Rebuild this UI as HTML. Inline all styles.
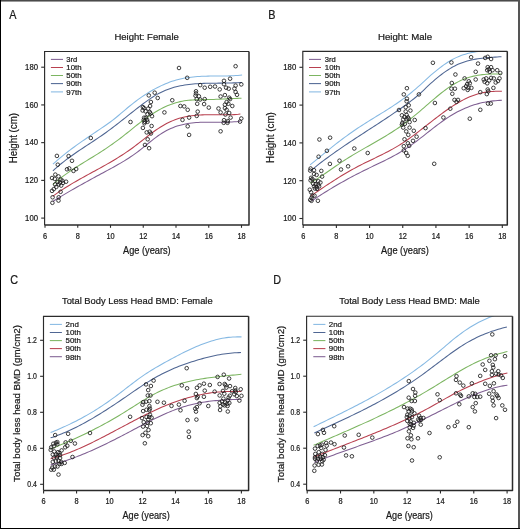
<!DOCTYPE html>
<html><head><meta charset="utf-8"><style>
html,body{margin:0;padding:0;background:#fff;}
svg{display:block;will-change:transform;}
text{font-family:"Liberation Sans", sans-serif;fill:#1a1a1a;}
.b{stroke:#1a1a1a;stroke-width:0.22px;}
</style></head><body>
<svg width="520" height="529" viewBox="0 0 520 529">
<rect width="520" height="529" fill="#fff"/>
<rect x="0" y="0" width="520" height="1" fill="#4a4a4a"/>
<rect x="0" y="1" width="520" height="1" fill="#9a9a9a"/>
<rect x="518" y="0" width="2" height="529" fill="#555"/>
<rect x="0" y="0" width="1" height="529" fill="#000"/>
<rect x="0" y="528" width="520" height="1" fill="#000"/>
<clipPath id="clipA"><rect x="44.6" y="51.5" width="204.4" height="173.4"/></clipPath>
<path d="M52.9,164.2 L55.03,162.3 L57.15,160.44 L59.28,158.62 L61.4,156.85 L63.53,155.12 L65.66,153.43 L67.78,151.77 L69.91,150.14 L72.03,148.54 L74.16,146.98 L76.28,145.43 L78.41,143.91 L80.54,142.41 L82.66,140.93 L84.79,139.46 L86.91,138 L89.04,136.55 L91.17,135.11 L93.29,133.68 L95.42,132.24 L97.54,130.81 L99.67,129.37 L101.79,127.93 L103.92,126.48 L106.05,125.01 L108.17,123.51 L110.3,121.97 L112.42,120.38 L114.55,118.73 L116.68,117.02 L118.8,115.25 L120.93,113.45 L123.05,111.63 L125.18,109.81 L127.3,108.02 L129.43,106.26 L131.56,104.54 L133.68,102.87 L135.81,101.25 L137.93,99.67 L140.06,98.15 L142.19,96.67 L144.31,95.24 L146.44,93.86 L148.56,92.53 L150.69,91.25 L152.81,90.03 L154.94,88.85 L157.07,87.73 L159.19,86.66 L161.32,85.64 L163.44,84.68 L165.57,83.77 L167.7,82.91 L169.82,82.11 L171.95,81.37 L174.07,80.68 L176.2,80.05 L178.32,79.48 L180.45,78.97 L182.58,78.51 L184.7,78.1 L186.83,77.74 L188.95,77.43 L191.08,77.16 L193.21,76.92 L195.33,76.73 L197.46,76.57 L199.58,76.43 L201.71,76.33 L203.83,76.24 L205.96,76.18 L208.09,76.13 L210.21,76.1 L212.34,76.07 L214.46,76.06 L216.59,76.05 L218.72,76.04 L220.84,76.02 L222.97,76 L225.09,75.98 L227.22,75.94 L229.34,75.88 L231.47,75.81 L233.6,75.71 L235.72,75.59 L237.85,75.45 L239.97,75.27 L242.1,75.05" fill="none" stroke="#86b9e3" stroke-width="1.05" clip-path="url(#clipA)"/>
<path d="M52.9,170.8 L55.03,168.88 L57.15,167.02 L59.28,165.22 L61.4,163.48 L63.53,161.79 L65.66,160.14 L67.78,158.54 L69.91,156.98 L72.03,155.45 L74.16,153.95 L76.28,152.48 L78.41,151.03 L80.54,149.6 L82.66,148.19 L84.79,146.78 L86.91,145.39 L89.04,143.99 L91.17,142.59 L93.29,141.19 L95.42,139.78 L97.54,138.36 L99.67,136.92 L101.79,135.45 L103.92,133.97 L106.05,132.45 L108.17,130.9 L110.3,129.33 L112.42,127.73 L114.55,126.12 L116.68,124.48 L118.8,122.83 L120.93,121.17 L123.05,119.49 L125.18,117.81 L127.3,116.13 L129.43,114.44 L131.56,112.76 L133.68,111.08 L135.81,109.4 L137.93,107.74 L140.06,106.09 L142.19,104.47 L144.31,102.87 L146.44,101.32 L148.56,99.82 L150.69,98.36 L152.81,96.97 L154.94,95.65 L157.07,94.4 L159.19,93.24 L161.32,92.16 L163.44,91.17 L165.57,90.26 L167.7,89.43 L169.82,88.67 L171.95,87.98 L174.07,87.36 L176.2,86.8 L178.32,86.29 L180.45,85.84 L182.58,85.44 L184.7,85.08 L186.83,84.77 L188.95,84.49 L191.08,84.24 L193.21,84.03 L195.33,83.85 L197.46,83.7 L199.58,83.57 L201.71,83.46 L203.83,83.38 L205.96,83.31 L208.09,83.26 L210.21,83.22 L212.34,83.19 L214.46,83.17 L216.59,83.15 L218.72,83.13 L220.84,83.12 L222.97,83.1 L225.09,83.08 L227.22,83.05 L229.34,83.01 L231.47,82.95 L233.6,82.88 L235.72,82.8 L237.85,82.69 L239.97,82.56 L242.1,82.4" fill="none" stroke="#4f6693" stroke-width="1.05" clip-path="url(#clipA)"/>
<path d="M52.9,184.48 L55.02,182.65 L57.14,180.88 L59.26,179.17 L61.38,177.51 L63.5,175.92 L65.61,174.37 L67.73,172.86 L69.85,171.39 L71.97,169.96 L74.09,168.56 L76.21,167.19 L78.33,165.85 L80.45,164.52 L82.57,163.21 L84.69,161.9 L86.81,160.61 L88.92,159.32 L91.04,158.02 L93.16,156.73 L95.28,155.42 L97.4,154.09 L99.52,152.75 L101.64,151.39 L103.76,150 L105.88,148.59 L108,147.16 L110.12,145.69 L112.23,144.21 L114.35,142.69 L116.47,141.15 L118.59,139.57 L120.71,137.97 L122.83,136.34 L124.95,134.68 L127.07,132.99 L129.19,131.29 L131.31,129.58 L133.43,127.87 L135.54,126.17 L137.66,124.5 L139.78,122.85 L141.9,121.24 L144.02,119.67 L146.14,118.14 L148.26,116.67 L150.38,115.24 L152.5,113.86 L154.62,112.53 L156.74,111.26 L158.86,110.05 L160.97,108.9 L163.09,107.81 L165.21,106.79 L167.33,105.83 L169.45,104.95 L171.57,104.13 L173.69,103.39 L175.81,102.72 L177.93,102.14 L180.05,101.63 L182.17,101.2 L184.28,100.84 L186.4,100.54 L188.52,100.3 L190.64,100.11 L192.76,99.97 L194.88,99.86 L197,99.77 L199.12,99.72 L201.24,99.67 L203.36,99.64 L205.48,99.61 L207.59,99.57 L209.71,99.53 L211.83,99.47 L213.95,99.41 L216.07,99.33 L218.19,99.25 L220.31,99.16 L222.43,99.07 L224.55,98.97 L226.67,98.87 L228.79,98.77 L230.9,98.66 L233.02,98.56 L235.14,98.47 L237.26,98.37 L239.38,98.28 L241.5,98.2" fill="none" stroke="#7cb561" stroke-width="1.05" clip-path="url(#clipA)"/>
<path d="M52.6,196.39 L54.71,194.87 L56.82,193.38 L58.93,191.94 L61.04,190.53 L63.15,189.15 L65.26,187.8 L67.37,186.48 L69.48,185.19 L71.59,183.92 L73.7,182.67 L75.81,181.44 L77.92,180.24 L80.03,179.04 L82.14,177.86 L84.25,176.69 L86.36,175.53 L88.47,174.37 L90.58,173.22 L92.69,172.07 L94.8,170.92 L96.91,169.77 L99.02,168.62 L101.13,167.45 L103.24,166.28 L105.35,165.1 L107.46,163.9 L109.57,162.69 L111.68,161.46 L113.79,160.21 L115.9,158.94 L118.01,157.64 L120.12,156.32 L122.23,154.97 L124.34,153.59 L126.45,152.17 L128.56,150.72 L130.67,149.23 L132.78,147.7 L134.89,146.13 L137,144.52 L139.11,142.89 L141.22,141.24 L143.33,139.58 L145.44,137.93 L147.56,136.29 L149.67,134.66 L151.78,133.07 L153.89,131.53 L156,130.03 L158.11,128.59 L160.22,127.23 L162.33,125.94 L164.44,124.72 L166.55,123.58 L168.66,122.52 L170.77,121.53 L172.88,120.62 L174.99,119.79 L177.1,119.03 L179.21,118.35 L181.32,117.74 L183.43,117.21 L185.54,116.74 L187.65,116.34 L189.76,115.99 L191.87,115.7 L193.98,115.45 L196.09,115.26 L198.2,115.1 L200.31,114.98 L202.42,114.89 L204.53,114.84 L206.64,114.8 L208.75,114.79 L210.86,114.79 L212.97,114.79 L215.08,114.79 L217.19,114.79 L219.3,114.79 L221.41,114.79 L223.52,114.79 L225.63,114.79 L227.74,114.79 L229.85,114.79 L231.96,114.74 L234.07,114.64 L236.18,114.5 L238.29,114.32 L240.4,114.09" fill="none" stroke="#b8404f" stroke-width="1.05" clip-path="url(#clipA)"/>
<path d="M52.6,201.6 L54.71,200.28 L56.82,198.97 L58.93,197.68 L61.04,196.4 L63.15,195.13 L65.26,193.87 L67.37,192.62 L69.48,191.39 L71.59,190.16 L73.7,188.95 L75.81,187.74 L77.92,186.55 L80.03,185.36 L82.14,184.18 L84.25,183 L86.36,181.84 L88.47,180.67 L90.58,179.52 L92.69,178.37 L94.8,177.22 L96.91,176.08 L99.02,174.94 L101.13,173.81 L103.24,172.67 L105.35,171.54 L107.46,170.41 L109.57,169.27 L111.68,168.12 L113.79,166.96 L115.9,165.78 L118.01,164.58 L120.12,163.37 L122.23,162.12 L124.34,160.84 L126.45,159.53 L128.56,158.19 L130.67,156.8 L132.78,155.37 L134.89,153.89 L137,152.37 L139.11,150.78 L141.22,149.15 L143.33,147.46 L145.44,145.74 L147.56,144.01 L149.67,142.28 L151.78,140.57 L153.89,138.91 L156,137.3 L158.11,135.76 L160.22,134.32 L162.33,132.97 L164.44,131.72 L166.55,130.57 L168.66,129.51 L170.77,128.53 L172.88,127.65 L174.99,126.84 L177.1,126.12 L179.21,125.47 L181.32,124.89 L183.43,124.39 L185.54,123.95 L187.65,123.57 L189.76,123.25 L191.87,122.98 L193.98,122.76 L196.09,122.58 L198.2,122.44 L200.31,122.34 L202.42,122.26 L204.53,122.21 L206.64,122.19 L208.75,122.18 L210.86,122.18 L212.97,122.18 L215.08,122.18 L217.19,122.18 L219.3,122.18 L221.41,122.18 L223.52,122.18 L225.63,122.18 L227.74,122.15 L229.85,122.08 L231.96,121.97 L234.07,121.83 L236.18,121.65 L238.29,121.43 L240.4,121.15" fill="none" stroke="#7f5f92" stroke-width="1.05" clip-path="url(#clipA)"/>
<g fill="none" stroke="#1c1c1c" stroke-width="0.85">
<circle cx="56.9" cy="155.9" r="1.8"/>
<circle cx="68.6" cy="156.1" r="1.8"/>
<circle cx="72" cy="160.8" r="1.8"/>
<circle cx="57.8" cy="164.7" r="1.8"/>
<circle cx="67" cy="169.3" r="1.8"/>
<circle cx="69.2" cy="168.4" r="1.8"/>
<circle cx="73.5" cy="170.9" r="1.8"/>
<circle cx="76.2" cy="169" r="1.8"/>
<circle cx="55.3" cy="174.6" r="1.8"/>
<circle cx="52" cy="178" r="1.8"/>
<circle cx="58.5" cy="176.4" r="1.8"/>
<circle cx="54.8" cy="178.9" r="1.8"/>
<circle cx="60.6" cy="179.5" r="1.8"/>
<circle cx="62.4" cy="180.7" r="1.8"/>
<circle cx="66.1" cy="181.7" r="1.8"/>
<circle cx="57.5" cy="181.9" r="1.8"/>
<circle cx="60" cy="182.6" r="1.8"/>
<circle cx="63" cy="182.9" r="1.8"/>
<circle cx="55.1" cy="184.4" r="1.8"/>
<circle cx="58.7" cy="184.4" r="1.8"/>
<circle cx="61.2" cy="185.6" r="1.8"/>
<circle cx="56.3" cy="186.9" r="1.8"/>
<circle cx="53.8" cy="189.1" r="1.8"/>
<circle cx="52" cy="190.9" r="1.8"/>
<circle cx="60.6" cy="191.8" r="1.8"/>
<circle cx="52.6" cy="197.3" r="1.8"/>
<circle cx="58.7" cy="197.3" r="1.8"/>
<circle cx="52.4" cy="202.8" r="1.8"/>
<circle cx="58.5" cy="200.6" r="1.8"/>
<circle cx="90.8" cy="138" r="1.8"/>
<circle cx="130.5" cy="122" r="1.8"/>
<circle cx="148.8" cy="95.4" r="1.8"/>
<circle cx="154.7" cy="92.7" r="1.8"/>
<circle cx="157.7" cy="98" r="1.8"/>
<circle cx="172.25" cy="100.25" r="1.8"/>
<circle cx="150.9" cy="102" r="1.8"/>
<circle cx="150.1" cy="106" r="1.8"/>
<circle cx="142.9" cy="107.1" r="1.8"/>
<circle cx="144.1" cy="108.2" r="1.8"/>
<circle cx="148.2" cy="108.6" r="1.8"/>
<circle cx="142.6" cy="110.5" r="1.8"/>
<circle cx="145.6" cy="111.3" r="1.8"/>
<circle cx="149.7" cy="112" r="1.8"/>
<circle cx="150.5" cy="113.5" r="1.8"/>
<circle cx="147.5" cy="114.3" r="1.8"/>
<circle cx="152" cy="116.2" r="1.8"/>
<circle cx="144.1" cy="117.7" r="1.8"/>
<circle cx="146" cy="117.7" r="1.8"/>
<circle cx="143.7" cy="119.9" r="1.8"/>
<circle cx="147.1" cy="119.9" r="1.8"/>
<circle cx="144.8" cy="121.8" r="1.8"/>
<circle cx="147.5" cy="121.8" r="1.8"/>
<circle cx="144.4" cy="123.3" r="1.8"/>
<circle cx="164.4" cy="112.4" r="1.8"/>
<circle cx="142.9" cy="127.9" r="1.8"/>
<circle cx="151.6" cy="126" r="1.8"/>
<circle cx="146.7" cy="132.4" r="1.8"/>
<circle cx="149.7" cy="131.7" r="1.8"/>
<circle cx="150.9" cy="133.5" r="1.8"/>
<circle cx="147.7" cy="139.3" r="1.8"/>
<circle cx="145" cy="144.9" r="1.8"/>
<circle cx="149.1" cy="148.2" r="1.8"/>
<circle cx="179" cy="68" r="1.8"/>
<circle cx="235.6" cy="66.2" r="1.8"/>
<circle cx="187.2" cy="77.8" r="1.8"/>
<circle cx="230.1" cy="78.7" r="1.8"/>
<circle cx="224" cy="80.8" r="1.8"/>
<circle cx="224" cy="84.2" r="1.8"/>
<circle cx="200.2" cy="85.1" r="1.8"/>
<circle cx="204.7" cy="87.7" r="1.8"/>
<circle cx="210.2" cy="86.8" r="1.8"/>
<circle cx="215" cy="86.5" r="1.8"/>
<circle cx="219.7" cy="89.4" r="1.8"/>
<circle cx="226.1" cy="87.7" r="1.8"/>
<circle cx="228.7" cy="88.7" r="1.8"/>
<circle cx="235.6" cy="85.6" r="1.8"/>
<circle cx="241.3" cy="84.4" r="1.8"/>
<circle cx="234.4" cy="88.6" r="1.8"/>
<circle cx="235.6" cy="92" r="1.8"/>
<circle cx="237" cy="94.8" r="1.8"/>
<circle cx="196" cy="91.3" r="1.8"/>
<circle cx="196" cy="93.4" r="1.8"/>
<circle cx="195.5" cy="95.7" r="1.8"/>
<circle cx="198.9" cy="96.3" r="1.8"/>
<circle cx="196.7" cy="99.1" r="1.8"/>
<circle cx="200.2" cy="99.5" r="1.8"/>
<circle cx="204.7" cy="99.1" r="1.8"/>
<circle cx="197.2" cy="103.8" r="1.8"/>
<circle cx="204.1" cy="104.1" r="1.8"/>
<circle cx="180.4" cy="106" r="1.8"/>
<circle cx="184.2" cy="106.4" r="1.8"/>
<circle cx="187.7" cy="109.8" r="1.8"/>
<circle cx="197.7" cy="111.6" r="1.8"/>
<circle cx="208.8" cy="107.6" r="1.8"/>
<circle cx="220.6" cy="96.5" r="1.8"/>
<circle cx="224.9" cy="95.1" r="1.8"/>
<circle cx="229.2" cy="97.7" r="1.8"/>
<circle cx="230.1" cy="99.1" r="1.8"/>
<circle cx="226.6" cy="102.1" r="1.8"/>
<circle cx="224.9" cy="104.7" r="1.8"/>
<circle cx="228.4" cy="103.8" r="1.8"/>
<circle cx="232.3" cy="106" r="1.8"/>
<circle cx="218.5" cy="108.5" r="1.8"/>
<circle cx="220.6" cy="112.4" r="1.8"/>
<circle cx="224.9" cy="108.1" r="1.8"/>
<circle cx="226.6" cy="109.8" r="1.8"/>
<circle cx="229.2" cy="113" r="1.8"/>
<circle cx="225.4" cy="114.5" r="1.8"/>
<circle cx="196.7" cy="115.9" r="1.8"/>
<circle cx="189.1" cy="117.6" r="1.8"/>
<circle cx="182.5" cy="119.9" r="1.8"/>
<circle cx="230.6" cy="117.6" r="1.8"/>
<circle cx="224" cy="120.2" r="1.8"/>
<circle cx="227.8" cy="121.1" r="1.8"/>
<circle cx="223.7" cy="122.8" r="1.8"/>
<circle cx="227.5" cy="122.8" r="1.8"/>
<circle cx="241.3" cy="118.5" r="1.8"/>
<circle cx="240" cy="121.6" r="1.8"/>
<circle cx="187.7" cy="126.3" r="1.8"/>
<circle cx="220.6" cy="131.3" r="1.8"/>
<circle cx="189.1" cy="134.9" r="1.8"/>
</g>
<path d="M44.6,224.9 L44.6,51.5 L249,51.5" fill="none" stroke="#2b2b2b" stroke-width="1.15"/>
<path d="M44.6,224.9 L249,224.9 L249,51.5" fill="none" stroke="#2b2b2b" stroke-width="1.5" stroke-linejoin="round"/>
<line x1="45" y1="224.9" x2="45" y2="227.8" stroke="#2b2b2b" stroke-width="1.1"/>
<text transform="translate(45,238.7) scale(0.88,1)" font-size="8.4" text-anchor="middle" class="b">6</text>
<line x1="77.75" y1="224.9" x2="77.75" y2="227.8" stroke="#2b2b2b" stroke-width="1.1"/>
<text transform="translate(77.75,238.7) scale(0.88,1)" font-size="8.4" text-anchor="middle" class="b">8</text>
<line x1="110.5" y1="224.9" x2="110.5" y2="227.8" stroke="#2b2b2b" stroke-width="1.1"/>
<text transform="translate(110.5,238.7) scale(0.88,1)" font-size="8.4" text-anchor="middle" class="b">10</text>
<line x1="143.25" y1="224.9" x2="143.25" y2="227.8" stroke="#2b2b2b" stroke-width="1.1"/>
<text transform="translate(143.25,238.7) scale(0.88,1)" font-size="8.4" text-anchor="middle" class="b">12</text>
<line x1="176" y1="224.9" x2="176" y2="227.8" stroke="#2b2b2b" stroke-width="1.1"/>
<text transform="translate(176,238.7) scale(0.88,1)" font-size="8.4" text-anchor="middle" class="b">14</text>
<line x1="208.75" y1="224.9" x2="208.75" y2="227.8" stroke="#2b2b2b" stroke-width="1.1"/>
<text transform="translate(208.75,238.7) scale(0.88,1)" font-size="8.4" text-anchor="middle" class="b">16</text>
<line x1="241.5" y1="224.9" x2="241.5" y2="227.8" stroke="#2b2b2b" stroke-width="1.1"/>
<text transform="translate(241.5,238.7) scale(0.88,1)" font-size="8.4" text-anchor="middle" class="b">18</text>
<line x1="41.2" y1="218.1" x2="44.6" y2="218.1" stroke="#2b2b2b" stroke-width="1.1"/>
<text transform="translate(38,220.9) scale(0.92,1)" font-size="8.4" text-anchor="end" class="b">100</text>
<line x1="41.2" y1="180.38" x2="44.6" y2="180.38" stroke="#2b2b2b" stroke-width="1.1"/>
<text transform="translate(38,183.18) scale(0.92,1)" font-size="8.4" text-anchor="end" class="b">120</text>
<line x1="41.2" y1="142.65" x2="44.6" y2="142.65" stroke="#2b2b2b" stroke-width="1.1"/>
<text transform="translate(38,145.45) scale(0.92,1)" font-size="8.4" text-anchor="end" class="b">140</text>
<line x1="41.2" y1="104.93" x2="44.6" y2="104.93" stroke="#2b2b2b" stroke-width="1.1"/>
<text transform="translate(38,107.73) scale(0.92,1)" font-size="8.4" text-anchor="end" class="b">160</text>
<line x1="41.2" y1="67.2" x2="44.6" y2="67.2" stroke="#2b2b2b" stroke-width="1.1"/>
<text transform="translate(38,70) scale(0.92,1)" font-size="8.4" text-anchor="end" class="b">180</text>
<text x="114.4" y="39.8" font-size="9.5" class="b" textLength="64.4" lengthAdjust="spacingAndGlyphs">Height: Female</text>
<text transform="translate(9.2,18.75) scale(0.88,1)" font-size="12.3" class="b">A</text>
<text transform="translate(16.6,138.1) rotate(-90)" x="0" y="0" font-size="10" class="b" text-anchor="middle" textLength="50.4" lengthAdjust="spacingAndGlyphs">Height (cm)</text>
<text x="123.1" y="253.8" font-size="10" class="b" textLength="47.6" lengthAdjust="spacingAndGlyphs">Age (years)</text>
<line x1="50.9" y1="59.4" x2="63" y2="59.4" stroke="#7f5f92" stroke-width="1.05"/>
<text x="66.3" y="62.2" font-size="8.1" class="b" textLength="11" lengthAdjust="spacingAndGlyphs">3rd</text>
<line x1="50.9" y1="67.5" x2="63" y2="67.5" stroke="#b8404f" stroke-width="1.05"/>
<text x="66.3" y="70.3" font-size="8.1" class="b" textLength="15.3" lengthAdjust="spacingAndGlyphs">10th</text>
<line x1="50.9" y1="75.5" x2="63" y2="75.5" stroke="#7cb561" stroke-width="1.05"/>
<text x="66.3" y="78.3" font-size="8.1" class="b" textLength="15.3" lengthAdjust="spacingAndGlyphs">50th</text>
<line x1="50.9" y1="83.6" x2="63" y2="83.6" stroke="#4f6693" stroke-width="1.05"/>
<text x="66.3" y="86.4" font-size="8.1" class="b" textLength="15.3" lengthAdjust="spacingAndGlyphs">90th</text>
<line x1="50.9" y1="91.9" x2="63" y2="91.9" stroke="#86b9e3" stroke-width="1.05"/>
<text x="66.3" y="94.7" font-size="8.1" class="b" textLength="15.3" lengthAdjust="spacingAndGlyphs">97th</text>
<clipPath id="clipB"><rect x="302.8" y="51.3" width="204.5" height="173.7"/></clipPath>
<path d="M310.1,164.83 L312.26,163.09 L314.41,161.34 L316.57,159.58 L318.72,157.82 L320.88,156.07 L323.04,154.31 L325.19,152.56 L327.35,150.82 L329.51,149.08 L331.66,147.36 L333.82,145.65 L335.97,143.96 L338.13,142.29 L340.29,140.63 L342.44,139 L344.6,137.4 L346.76,135.82 L348.91,134.26 L351.07,132.74 L353.22,131.24 L355.38,129.76 L357.54,128.31 L359.69,126.88 L361.85,125.47 L364,124.09 L366.16,122.72 L368.32,121.37 L370.47,120.03 L372.63,118.7 L374.79,117.38 L376.94,116.06 L379.1,114.74 L381.25,113.42 L383.41,112.08 L385.57,110.74 L387.72,109.38 L389.88,108 L392.03,106.6 L394.19,105.18 L396.35,103.73 L398.5,102.25 L400.66,100.73 L402.82,99.17 L404.97,97.57 L407.13,95.93 L409.28,94.24 L411.44,92.5 L413.6,90.71 L415.75,88.86 L417.91,86.97 L420.07,85.03 L422.22,83.06 L424.38,81.08 L426.53,79.1 L428.69,77.14 L430.85,75.23 L433,73.36 L435.16,71.55 L437.31,69.8 L439.47,68.11 L441.63,66.48 L443.78,64.93 L445.94,63.45 L448.1,62.05 L450.25,60.74 L452.41,59.52 L454.56,58.39 L456.72,57.36 L458.88,56.43 L461.03,55.59 L463.19,54.84 L465.34,54.17 L467.5,53.57 L469.66,53.03 L471.81,52.56 L473.97,52.13 L476.13,51.75 L478.28,51.4 L480.44,51.08 L482.59,50.79 L484.75,50.5 L486.91,50.23 L489.06,49.95 L491.22,49.67 L493.38,49.37 L495.53,49.05 L497.69,48.71 L499.84,48.32 L502,47.89" fill="none" stroke="#86b9e3" stroke-width="1.05" clip-path="url(#clipB)"/>
<path d="M310.6,170.81 L312.74,169.05 L314.89,167.32 L317.03,165.61 L319.18,163.93 L321.32,162.28 L323.47,160.65 L325.61,159.04 L327.76,157.46 L329.9,155.89 L332.05,154.34 L334.19,152.82 L336.34,151.3 L338.48,149.81 L340.63,148.33 L342.77,146.86 L344.92,145.41 L347.06,143.96 L349.21,142.53 L351.35,141.11 L353.5,139.69 L355.64,138.28 L357.79,136.88 L359.93,135.48 L362.08,134.09 L364.22,132.69 L366.37,131.3 L368.51,129.91 L370.66,128.52 L372.8,127.13 L374.95,125.74 L377.09,124.34 L379.24,122.94 L381.38,121.54 L383.53,120.12 L385.67,118.7 L387.82,117.27 L389.96,115.83 L392.11,114.38 L394.25,112.92 L396.4,111.45 L398.54,109.96 L400.69,108.46 L402.83,106.95 L404.98,105.41 L407.12,103.86 L409.27,102.29 L411.41,100.67 L413.56,99 L415.7,97.26 L417.85,95.43 L419.99,93.52 L422.14,91.53 L424.28,89.51 L426.43,87.47 L428.57,85.45 L430.72,83.47 L432.86,81.55 L435.01,79.69 L437.15,77.89 L439.3,76.16 L441.44,74.49 L443.59,72.9 L445.73,71.38 L447.88,69.95 L450.02,68.6 L452.17,67.33 L454.31,66.16 L456.46,65.08 L458.6,64.1 L460.75,63.21 L462.89,62.41 L465.04,61.69 L467.18,61.05 L469.33,60.48 L471.47,59.97 L473.62,59.52 L475.76,59.13 L477.91,58.79 L480.05,58.49 L482.2,58.23 L484.34,58 L486.49,57.79 L488.63,57.61 L490.78,57.45 L492.92,57.29 L495.07,57.14 L497.21,56.99 L499.36,56.84 L501.5,56.67" fill="none" stroke="#4f6693" stroke-width="1.05" clip-path="url(#clipB)"/>
<path d="M310.1,183.39 L312.25,182.05 L314.4,180.67 L316.55,179.27 L318.7,177.84 L320.85,176.39 L323,174.93 L325.15,173.45 L327.3,171.97 L329.46,170.48 L331.61,168.99 L333.76,167.5 L335.91,166.03 L338.06,164.56 L340.21,163.11 L342.36,161.68 L344.51,160.28 L346.66,158.9 L348.81,157.55 L350.96,156.22 L353.11,154.92 L355.26,153.63 L357.41,152.36 L359.56,151.11 L361.71,149.86 L363.86,148.63 L366.01,147.4 L368.17,146.17 L370.32,144.95 L372.47,143.72 L374.62,142.5 L376.77,141.26 L378.92,140.01 L381.07,138.76 L383.22,137.48 L385.37,136.19 L387.52,134.88 L389.67,133.55 L391.82,132.2 L393.97,130.81 L396.12,129.4 L398.27,127.95 L400.42,126.47 L402.57,124.95 L404.72,123.4 L406.88,121.79 L409.03,120.15 L411.18,118.45 L413.33,116.71 L415.48,114.93 L417.63,113.12 L419.78,111.28 L421.93,109.42 L424.08,107.56 L426.23,105.68 L428.38,103.81 L430.53,101.95 L432.68,100.11 L434.83,98.28 L436.98,96.49 L439.13,94.73 L441.28,93.01 L443.43,91.34 L445.59,89.73 L447.74,88.18 L449.89,86.7 L452.04,85.3 L454.19,83.98 L456.34,82.75 L458.49,81.61 L460.64,80.57 L462.79,79.62 L464.94,78.76 L467.09,77.98 L469.24,77.28 L471.39,76.66 L473.54,76.12 L475.69,75.65 L477.84,75.24 L479.99,74.9 L482.14,74.62 L484.3,74.4 L486.45,74.24 L488.6,74.12 L490.75,74.06 L492.9,74.04 L495.05,74.04 L497.2,74.04 L499.35,74.04 L501.5,74.04" fill="none" stroke="#7cb561" stroke-width="1.05" clip-path="url(#clipB)"/>
<path d="M311,195.9 L313.14,194.41 L315.29,192.92 L317.43,191.45 L319.58,189.98 L321.72,188.52 L323.87,187.08 L326.01,185.65 L328.16,184.23 L330.3,182.83 L332.45,181.44 L334.59,180.07 L336.74,178.71 L338.88,177.38 L341.03,176.06 L343.17,174.76 L345.32,173.49 L347.46,172.23 L349.61,171 L351.75,169.8 L353.9,168.62 L356.04,167.46 L358.19,166.34 L360.33,165.23 L362.48,164.15 L364.62,163.08 L366.77,162.03 L368.91,160.99 L371.06,159.95 L373.2,158.92 L375.35,157.88 L377.49,156.84 L379.64,155.79 L381.78,154.73 L383.93,153.65 L386.07,152.55 L388.22,151.43 L390.36,150.28 L392.51,149.1 L394.65,147.89 L396.8,146.64 L398.94,145.35 L401.09,144.02 L403.23,142.63 L405.38,141.2 L407.52,139.72 L409.67,138.21 L411.81,136.65 L413.96,135.07 L416.1,133.46 L418.25,131.83 L420.39,130.18 L422.54,128.51 L424.68,126.83 L426.83,125.15 L428.97,123.47 L431.12,121.8 L433.26,120.13 L435.41,118.47 L437.55,116.83 L439.7,115.21 L441.84,113.61 L443.99,112.04 L446.13,110.51 L448.28,109.01 L450.42,107.56 L452.57,106.14 L454.71,104.78 L456.86,103.46 L459,102.2 L461.15,100.99 L463.29,99.85 L465.44,98.77 L467.58,97.76 L469.73,96.83 L471.87,95.96 L474.02,95.18 L476.16,94.47 L478.31,93.84 L480.45,93.28 L482.6,92.79 L484.74,92.38 L486.89,92.03 L489.03,91.76 L491.18,91.55 L493.32,91.41 L495.47,91.34 L497.61,91.34 L499.76,91.34 L501.9,91.34" fill="none" stroke="#b8404f" stroke-width="1.05" clip-path="url(#clipB)"/>
<path d="M311.8,200.93 L313.94,199.48 L316.07,198.06 L318.21,196.65 L320.34,195.26 L322.48,193.89 L324.62,192.54 L326.75,191.21 L328.89,189.9 L331.02,188.6 L333.16,187.32 L335.3,186.06 L337.43,184.81 L339.57,183.58 L341.7,182.37 L343.84,181.17 L345.98,179.98 L348.11,178.81 L350.25,177.66 L352.38,176.52 L354.52,175.39 L356.66,174.28 L358.79,173.18 L360.93,172.1 L363.06,171.02 L365.2,169.96 L367.33,168.91 L369.47,167.88 L371.61,166.85 L373.74,165.82 L375.88,164.8 L378.01,163.78 L380.15,162.75 L382.29,161.71 L384.42,160.66 L386.56,159.6 L388.69,158.52 L390.83,157.41 L392.97,156.28 L395.1,155.12 L397.24,153.92 L399.37,152.69 L401.51,151.42 L403.65,150.11 L405.78,148.75 L407.92,147.34 L410.05,145.87 L412.19,144.36 L414.33,142.81 L416.46,141.22 L418.6,139.6 L420.73,137.95 L422.87,136.29 L425.01,134.61 L427.14,132.93 L429.28,131.25 L431.41,129.57 L433.55,127.91 L435.69,126.26 L437.82,124.64 L439.96,123.05 L442.09,121.49 L444.23,119.97 L446.37,118.51 L448.5,117.09 L450.64,115.74 L452.77,114.45 L454.91,113.23 L457.04,112.06 L459.18,110.96 L461.32,109.92 L463.45,108.93 L465.59,108.01 L467.72,107.14 L469.86,106.33 L472,105.58 L474.13,104.87 L476.27,104.23 L478.4,103.63 L480.54,103.09 L482.68,102.6 L484.81,102.16 L486.95,101.76 L489.08,101.42 L491.22,101.12 L493.36,100.87 L495.49,100.66 L497.63,100.5 L499.76,100.38 L501.9,100.31" fill="none" stroke="#7f5f92" stroke-width="1.05" clip-path="url(#clipB)"/>
<g fill="none" stroke="#1c1c1c" stroke-width="0.85">
<circle cx="329.9" cy="163.9" r="1.8"/>
<circle cx="310.6" cy="168.5" r="1.8"/>
<circle cx="310.2" cy="170.6" r="1.8"/>
<circle cx="314" cy="170.2" r="1.8"/>
<circle cx="321.3" cy="170.9" r="1.8"/>
<circle cx="314" cy="174" r="1.8"/>
<circle cx="316.6" cy="174.9" r="1.8"/>
<circle cx="322.1" cy="176.6" r="1.8"/>
<circle cx="311.1" cy="177.8" r="1.8"/>
<circle cx="312.3" cy="179.1" r="1.8"/>
<circle cx="310.6" cy="180.4" r="1.8"/>
<circle cx="314.9" cy="180.8" r="1.8"/>
<circle cx="318.3" cy="181.2" r="1.8"/>
<circle cx="320.4" cy="182.5" r="1.8"/>
<circle cx="313.2" cy="183.8" r="1.8"/>
<circle cx="315.7" cy="184.2" r="1.8"/>
<circle cx="318.3" cy="184.6" r="1.8"/>
<circle cx="314" cy="186.3" r="1.8"/>
<circle cx="316.6" cy="187.2" r="1.8"/>
<circle cx="319.1" cy="186.3" r="1.8"/>
<circle cx="314.9" cy="188.5" r="1.8"/>
<circle cx="317" cy="188.9" r="1.8"/>
<circle cx="309.8" cy="189.7" r="1.8"/>
<circle cx="311.1" cy="192.3" r="1.8"/>
<circle cx="312.3" cy="195.7" r="1.8"/>
<circle cx="314.5" cy="195.7" r="1.8"/>
<circle cx="311.5" cy="197.8" r="1.8"/>
<circle cx="310.2" cy="199.9" r="1.8"/>
<circle cx="311.5" cy="200.8" r="1.8"/>
<circle cx="317.9" cy="200.8" r="1.8"/>
<circle cx="319.4" cy="139.5" r="1.8"/>
<circle cx="330.1" cy="137.7" r="1.8"/>
<circle cx="326.9" cy="150.8" r="1.8"/>
<circle cx="318.6" cy="156.7" r="1.8"/>
<circle cx="339.5" cy="160.7" r="1.8"/>
<circle cx="348.1" cy="166.3" r="1.8"/>
<circle cx="341" cy="169.5" r="1.8"/>
<circle cx="354.3" cy="148.5" r="1.8"/>
<circle cx="367.7" cy="153" r="1.8"/>
<circle cx="406.9" cy="88.2" r="1.8"/>
<circle cx="403.8" cy="94.4" r="1.8"/>
<circle cx="418.9" cy="94.4" r="1.8"/>
<circle cx="406.9" cy="98.7" r="1.8"/>
<circle cx="406.6" cy="101.3" r="1.8"/>
<circle cx="408.7" cy="105.3" r="1.8"/>
<circle cx="405.7" cy="107.2" r="1.8"/>
<circle cx="399" cy="110" r="1.8"/>
<circle cx="410.4" cy="110.6" r="1.8"/>
<circle cx="405.7" cy="111.5" r="1.8"/>
<circle cx="401.9" cy="115.3" r="1.8"/>
<circle cx="406.6" cy="114.9" r="1.8"/>
<circle cx="404.5" cy="117" r="1.8"/>
<circle cx="407.9" cy="117.4" r="1.8"/>
<circle cx="403.2" cy="119.5" r="1.8"/>
<circle cx="406.6" cy="119.1" r="1.8"/>
<circle cx="408.7" cy="118.7" r="1.8"/>
<circle cx="414.7" cy="120" r="1.8"/>
<circle cx="402.3" cy="122.9" r="1.8"/>
<circle cx="404.9" cy="123.8" r="1.8"/>
<circle cx="409.6" cy="122.1" r="1.8"/>
<circle cx="401.9" cy="124.6" r="1.8"/>
<circle cx="403.2" cy="127.6" r="1.8"/>
<circle cx="409.6" cy="127.6" r="1.8"/>
<circle cx="406.2" cy="131.4" r="1.8"/>
<circle cx="413.8" cy="130.8" r="1.8"/>
<circle cx="408.3" cy="134.8" r="1.8"/>
<circle cx="404.5" cy="139.3" r="1.8"/>
<circle cx="413" cy="140.8" r="1.8"/>
<circle cx="416.6" cy="136.7" r="1.8"/>
<circle cx="407.9" cy="143.3" r="1.8"/>
<circle cx="425.5" cy="128.1" r="1.8"/>
<circle cx="403.8" cy="146.2" r="1.8"/>
<circle cx="409.2" cy="145.8" r="1.8"/>
<circle cx="403.8" cy="150.4" r="1.8"/>
<circle cx="406.2" cy="153" r="1.8"/>
<circle cx="407.7" cy="155.8" r="1.8"/>
<circle cx="432.9" cy="62.8" r="1.8"/>
<circle cx="451.4" cy="62.5" r="1.8"/>
<circle cx="471.1" cy="57.2" r="1.8"/>
<circle cx="485.2" cy="57.9" r="1.8"/>
<circle cx="487.7" cy="56.8" r="1.8"/>
<circle cx="491.1" cy="59" r="1.8"/>
<circle cx="478" cy="63.6" r="1.8"/>
<circle cx="455.4" cy="74.5" r="1.8"/>
<circle cx="475.7" cy="71.8" r="1.8"/>
<circle cx="487.7" cy="67.2" r="1.8"/>
<circle cx="491.1" cy="67.2" r="1.8"/>
<circle cx="488.8" cy="69.2" r="1.8"/>
<circle cx="492.6" cy="70.2" r="1.8"/>
<circle cx="497.2" cy="70.2" r="1.8"/>
<circle cx="500.3" cy="73" r="1.8"/>
<circle cx="487.2" cy="70.2" r="1.8"/>
<circle cx="489.8" cy="71.8" r="1.8"/>
<circle cx="464.6" cy="78.4" r="1.8"/>
<circle cx="451.8" cy="83" r="1.8"/>
<circle cx="468.8" cy="81.3" r="1.8"/>
<circle cx="467.2" cy="84.1" r="1.8"/>
<circle cx="469.8" cy="83.3" r="1.8"/>
<circle cx="475.7" cy="79.5" r="1.8"/>
<circle cx="466.2" cy="86.1" r="1.8"/>
<circle cx="463.7" cy="88.2" r="1.8"/>
<circle cx="468.3" cy="87.9" r="1.8"/>
<circle cx="471.4" cy="87.9" r="1.8"/>
<circle cx="467.7" cy="89.9" r="1.8"/>
<circle cx="451.4" cy="88.7" r="1.8"/>
<circle cx="454.9" cy="88.7" r="1.8"/>
<circle cx="452.3" cy="93.8" r="1.8"/>
<circle cx="483.7" cy="79.5" r="1.8"/>
<circle cx="486.2" cy="78.4" r="1.8"/>
<circle cx="489.15" cy="80.45" r="1.8"/>
<circle cx="491.1" cy="77.9" r="1.8"/>
<circle cx="493.8" cy="78.4" r="1.8"/>
<circle cx="484.6" cy="81.8" r="1.8"/>
<circle cx="487.2" cy="83.3" r="1.8"/>
<circle cx="495.7" cy="82.5" r="1.8"/>
<circle cx="498" cy="81" r="1.8"/>
<circle cx="499.5" cy="78.4" r="1.8"/>
<circle cx="493.4" cy="87.9" r="1.8"/>
<circle cx="487.7" cy="89.5" r="1.8"/>
<circle cx="488.3" cy="91.3" r="1.8"/>
<circle cx="480.3" cy="92.2" r="1.8"/>
<circle cx="486.8" cy="94.1" r="1.8"/>
<circle cx="434.9" cy="103" r="1.8"/>
<circle cx="454.5" cy="99.9" r="1.8"/>
<circle cx="458" cy="99.9" r="1.8"/>
<circle cx="456.5" cy="101.8" r="1.8"/>
<circle cx="450.3" cy="108.7" r="1.8"/>
<circle cx="480.3" cy="109.8" r="1.8"/>
<circle cx="488" cy="103.6" r="1.8"/>
<circle cx="490.8" cy="103.6" r="1.8"/>
<circle cx="443.4" cy="117.5" r="1.8"/>
<circle cx="469.8" cy="118.7" r="1.8"/>
<circle cx="434.2" cy="163.8" r="1.8"/>
</g>
<path d="M302.8,225 L302.8,51.3 L507.3,51.3" fill="none" stroke="#2b2b2b" stroke-width="1.15"/>
<path d="M302.8,225 L507.3,225 L507.3,51.3" fill="none" stroke="#2b2b2b" stroke-width="1.5" stroke-linejoin="round"/>
<line x1="303.2" y1="225" x2="303.2" y2="227.9" stroke="#2b2b2b" stroke-width="1.1"/>
<text transform="translate(303.2,238.8) scale(0.88,1)" font-size="8.4" text-anchor="middle" class="b">6</text>
<line x1="336.38" y1="225" x2="336.38" y2="227.9" stroke="#2b2b2b" stroke-width="1.1"/>
<text transform="translate(336.38,238.8) scale(0.88,1)" font-size="8.4" text-anchor="middle" class="b">8</text>
<line x1="369.57" y1="225" x2="369.57" y2="227.9" stroke="#2b2b2b" stroke-width="1.1"/>
<text transform="translate(369.57,238.8) scale(0.88,1)" font-size="8.4" text-anchor="middle" class="b">10</text>
<line x1="402.75" y1="225" x2="402.75" y2="227.9" stroke="#2b2b2b" stroke-width="1.1"/>
<text transform="translate(402.75,238.8) scale(0.88,1)" font-size="8.4" text-anchor="middle" class="b">12</text>
<line x1="435.93" y1="225" x2="435.93" y2="227.9" stroke="#2b2b2b" stroke-width="1.1"/>
<text transform="translate(435.93,238.8) scale(0.88,1)" font-size="8.4" text-anchor="middle" class="b">14</text>
<line x1="469.12" y1="225" x2="469.12" y2="227.9" stroke="#2b2b2b" stroke-width="1.1"/>
<text transform="translate(469.12,238.8) scale(0.88,1)" font-size="8.4" text-anchor="middle" class="b">16</text>
<line x1="502.3" y1="225" x2="502.3" y2="227.9" stroke="#2b2b2b" stroke-width="1.1"/>
<text transform="translate(502.3,238.8) scale(0.88,1)" font-size="8.4" text-anchor="middle" class="b">18</text>
<line x1="299.4" y1="218.5" x2="302.8" y2="218.5" stroke="#2b2b2b" stroke-width="1.1"/>
<text transform="translate(296.2,221.3) scale(0.92,1)" font-size="8.4" text-anchor="end" class="b">100</text>
<line x1="299.4" y1="180.7" x2="302.8" y2="180.7" stroke="#2b2b2b" stroke-width="1.1"/>
<text transform="translate(296.2,183.5) scale(0.92,1)" font-size="8.4" text-anchor="end" class="b">120</text>
<line x1="299.4" y1="142.9" x2="302.8" y2="142.9" stroke="#2b2b2b" stroke-width="1.1"/>
<text transform="translate(296.2,145.7) scale(0.92,1)" font-size="8.4" text-anchor="end" class="b">140</text>
<line x1="299.4" y1="105.1" x2="302.8" y2="105.1" stroke="#2b2b2b" stroke-width="1.1"/>
<text transform="translate(296.2,107.9) scale(0.92,1)" font-size="8.4" text-anchor="end" class="b">160</text>
<line x1="299.4" y1="67.3" x2="302.8" y2="67.3" stroke="#2b2b2b" stroke-width="1.1"/>
<text transform="translate(296.2,70.1) scale(0.92,1)" font-size="8.4" text-anchor="end" class="b">180</text>
<text x="378" y="39.7" font-size="9.5" class="b" textLength="54" lengthAdjust="spacingAndGlyphs">Height: Male</text>
<text transform="translate(268.3,18.7) scale(0.88,1)" font-size="12.3" class="b">B</text>
<text transform="translate(273.8,137.5) rotate(-90)" x="0" y="0" font-size="10" class="b" text-anchor="middle" textLength="50.8" lengthAdjust="spacingAndGlyphs">Height (cm)</text>
<text x="381.1" y="253.8" font-size="10" class="b" textLength="47.7" lengthAdjust="spacingAndGlyphs">Age (years)</text>
<line x1="309" y1="59.4" x2="321" y2="59.4" stroke="#7f5f92" stroke-width="1.05"/>
<text x="324.8" y="62.2" font-size="8.1" class="b" textLength="11" lengthAdjust="spacingAndGlyphs">3rd</text>
<line x1="309" y1="67.5" x2="321" y2="67.5" stroke="#b8404f" stroke-width="1.05"/>
<text x="324.8" y="70.3" font-size="8.1" class="b" textLength="15.3" lengthAdjust="spacingAndGlyphs">10th</text>
<line x1="309" y1="75.5" x2="321" y2="75.5" stroke="#7cb561" stroke-width="1.05"/>
<text x="324.8" y="78.3" font-size="8.1" class="b" textLength="15.3" lengthAdjust="spacingAndGlyphs">50th</text>
<line x1="309" y1="83.6" x2="321" y2="83.6" stroke="#4f6693" stroke-width="1.05"/>
<text x="324.8" y="86.4" font-size="8.1" class="b" textLength="15.3" lengthAdjust="spacingAndGlyphs">90th</text>
<line x1="309" y1="91.9" x2="321" y2="91.9" stroke="#86b9e3" stroke-width="1.05"/>
<text x="324.8" y="94.7" font-size="8.1" class="b" textLength="15.3" lengthAdjust="spacingAndGlyphs">97th</text>
<clipPath id="clipC"><rect x="43.5" y="316.3" width="205.1" height="174.3"/></clipPath>
<path d="M50.6,432.61 L52.74,431.73 L54.89,430.83 L57.03,429.92 L59.18,429 L61.32,428.06 L63.47,427.09 L65.61,426.11 L67.76,425.12 L69.9,424.1 L72.05,423.06 L74.19,421.99 L76.34,420.91 L78.48,419.8 L80.63,418.67 L82.77,417.51 L84.92,416.33 L87.06,415.12 L89.21,413.89 L91.35,412.62 L93.5,411.33 L95.64,410.01 L97.79,408.66 L99.93,407.28 L102.08,405.86 L104.22,404.42 L106.37,402.95 L108.51,401.45 L110.66,399.92 L112.8,398.38 L114.95,396.8 L117.09,395.21 L119.24,393.6 L121.38,391.96 L123.53,390.32 L125.67,388.66 L127.82,387 L129.96,385.35 L132.11,383.71 L134.25,382.08 L136.4,380.48 L138.54,378.9 L140.69,377.36 L142.83,375.87 L144.98,374.41 L147.12,372.99 L149.27,371.6 L151.41,370.26 L153.56,368.95 L155.7,367.67 L157.85,366.43 L159.99,365.21 L162.14,364 L164.28,362.81 L166.43,361.63 L168.57,360.45 L170.72,359.29 L172.86,358.13 L175.01,356.98 L177.15,355.85 L179.3,354.73 L181.44,353.63 L183.59,352.55 L185.73,351.49 L187.88,350.46 L190.02,349.44 L192.17,348.45 L194.31,347.5 L196.46,346.57 L198.6,345.67 L200.75,344.8 L202.89,343.97 L205.04,343.18 L207.18,342.42 L209.33,341.71 L211.47,341.03 L213.62,340.4 L215.76,339.82 L217.91,339.28 L220.05,338.79 L222.2,338.36 L224.34,337.97 L226.49,337.64 L228.63,337.37 L230.78,337.15 L232.92,336.99 L235.07,336.9 L237.21,336.87 L239.36,336.87 L241.5,336.87" fill="none" stroke="#86b9e3" stroke-width="1.05" clip-path="url(#clipC)"/>
<path d="M50.6,437.86 L52.74,437.15 L54.88,436.41 L57.02,435.63 L59.16,434.82 L61.3,433.98 L63.44,433.1 L65.58,432.19 L67.71,431.25 L69.85,430.28 L71.99,429.28 L74.13,428.25 L76.27,427.2 L78.41,426.12 L80.55,425.01 L82.69,423.87 L84.83,422.71 L86.97,421.53 L89.11,420.32 L91.25,419.1 L93.39,417.85 L95.53,416.57 L97.67,415.28 L99.8,413.97 L101.94,412.65 L104.08,411.3 L106.22,409.94 L108.36,408.56 L110.5,407.17 L112.64,405.76 L114.78,404.34 L116.92,402.9 L119.06,401.46 L121.2,400 L123.34,398.53 L125.48,397.06 L127.62,395.58 L129.76,394.1 L131.89,392.63 L134.03,391.16 L136.17,389.7 L138.31,388.26 L140.45,386.83 L142.59,385.42 L144.73,384.03 L146.87,382.67 L149.01,381.33 L151.15,380.03 L153.29,378.76 L155.43,377.53 L157.57,376.33 L159.71,375.18 L161.84,374.06 L163.98,372.98 L166.12,371.93 L168.26,370.92 L170.4,369.95 L172.54,369 L174.68,368.09 L176.82,367.21 L178.96,366.36 L181.1,365.54 L183.24,364.74 L185.38,363.98 L187.52,363.23 L189.66,362.51 L191.8,361.81 L193.93,361.14 L196.07,360.48 L198.21,359.84 L200.35,359.22 L202.49,358.62 L204.63,358.04 L206.77,357.49 L208.91,356.95 L211.05,356.44 L213.19,355.96 L215.33,355.5 L217.47,355.07 L219.61,354.67 L221.75,354.3 L223.89,353.97 L226.02,353.66 L228.16,353.4 L230.3,353.16 L232.44,352.97 L234.58,352.81 L236.72,352.69 L238.86,352.61 L241,352.57" fill="none" stroke="#4f6693" stroke-width="1.05" clip-path="url(#clipC)"/>
<path d="M50.6,449 L52.74,448.14 L54.89,447.27 L57.03,446.39 L59.18,445.5 L61.32,444.6 L63.46,443.69 L65.61,442.77 L67.75,441.84 L69.89,440.9 L72.04,439.94 L74.18,438.97 L76.33,437.99 L78.47,437 L80.61,436 L82.76,434.98 L84.9,433.95 L87.04,432.91 L89.19,431.85 L91.33,430.78 L93.48,429.69 L95.62,428.59 L97.76,427.47 L99.91,426.34 L102.05,425.2 L104.2,424.04 L106.34,422.86 L108.48,421.67 L110.63,420.46 L112.77,419.23 L114.91,417.99 L117.06,416.73 L119.2,415.45 L121.35,414.16 L123.49,412.84 L125.63,411.51 L127.78,410.17 L129.92,408.81 L132.07,407.44 L134.21,406.07 L136.35,404.7 L138.5,403.34 L140.64,401.99 L142.78,400.66 L144.93,399.35 L147.07,398.08 L149.22,396.83 L151.36,395.62 L153.5,394.46 L155.65,393.35 L157.79,392.28 L159.93,391.26 L162.08,390.29 L164.22,389.36 L166.37,388.47 L168.51,387.63 L170.65,386.83 L172.8,386.06 L174.94,385.33 L177.09,384.64 L179.23,383.99 L181.37,383.36 L183.52,382.77 L185.66,382.21 L187.8,381.68 L189.95,381.18 L192.09,380.71 L194.24,380.26 L196.38,379.84 L198.52,379.44 L200.67,379.06 L202.81,378.7 L204.96,378.36 L207.1,378.04 L209.24,377.74 L211.39,377.45 L213.53,377.18 L215.67,376.92 L217.82,376.67 L219.96,376.43 L222.11,376.2 L224.25,375.98 L226.39,375.76 L228.54,375.55 L230.68,375.34 L232.82,375.14 L234.97,374.93 L237.11,374.73 L239.26,374.52 L241.4,374.32" fill="none" stroke="#7cb561" stroke-width="1.05" clip-path="url(#clipC)"/>
<path d="M50.6,458.68 L52.74,458.11 L54.89,457.51 L57.03,456.87 L59.18,456.2 L61.32,455.5 L63.46,454.77 L65.61,454.01 L67.75,453.21 L69.89,452.39 L72.04,451.55 L74.18,450.68 L76.33,449.78 L78.47,448.86 L80.61,447.92 L82.76,446.96 L84.9,445.98 L87.04,444.98 L89.19,443.96 L91.33,442.93 L93.48,441.88 L95.62,440.81 L97.76,439.74 L99.91,438.65 L102.05,437.55 L104.2,436.44 L106.34,435.33 L108.48,434.2 L110.63,433.07 L112.77,431.94 L114.91,430.8 L117.06,429.66 L119.2,428.51 L121.35,427.37 L123.49,426.23 L125.63,425.09 L127.78,423.95 L129.92,422.81 L132.07,421.69 L134.21,420.56 L136.35,419.45 L138.5,418.34 L140.64,417.25 L142.78,416.16 L144.93,415.09 L147.07,414.03 L149.22,412.98 L151.36,411.95 L153.5,410.94 L155.65,409.94 L157.79,408.96 L159.93,408.01 L162.08,407.07 L164.22,406.16 L166.37,405.26 L168.51,404.4 L170.65,403.56 L172.8,402.74 L174.94,401.96 L177.09,401.2 L179.23,400.46 L181.37,399.76 L183.52,399.08 L185.66,398.43 L187.8,397.81 L189.95,397.21 L192.09,396.64 L194.24,396.1 L196.38,395.59 L198.52,395.11 L200.67,394.66 L202.81,394.24 L204.96,393.84 L207.1,393.48 L209.24,393.14 L211.39,392.83 L213.53,392.56 L215.67,392.31 L217.82,392.1 L219.96,391.91 L222.11,391.76 L224.25,391.63 L226.39,391.54 L228.54,391.48 L230.68,391.45 L232.82,391.45 L234.97,391.45 L237.11,391.45 L239.26,391.45 L241.4,391.45" fill="none" stroke="#b8404f" stroke-width="1.05" clip-path="url(#clipC)"/>
<path d="M50.6,464.89 L52.74,464.37 L54.89,463.82 L57.03,463.24 L59.18,462.63 L61.32,461.99 L63.46,461.33 L65.61,460.65 L67.75,459.94 L69.89,459.21 L72.04,458.45 L74.18,457.67 L76.33,456.87 L78.47,456.04 L80.61,455.2 L82.76,454.34 L84.9,453.45 L87.04,452.55 L89.19,451.63 L91.33,450.69 L93.48,449.74 L95.62,448.77 L97.76,447.79 L99.91,446.79 L102.05,445.77 L104.2,444.74 L106.34,443.7 L108.48,442.65 L110.63,441.59 L112.77,440.51 L114.91,439.43 L117.06,438.33 L119.2,437.23 L121.35,436.12 L123.49,435 L125.63,433.88 L127.78,432.74 L129.92,431.61 L132.07,430.47 L134.21,429.33 L136.35,428.19 L138.5,427.06 L140.64,425.93 L142.78,424.8 L144.93,423.68 L147.07,422.58 L149.22,421.48 L151.36,420.39 L153.5,419.32 L155.65,418.27 L157.79,417.23 L159.93,416.22 L162.08,415.22 L164.22,414.25 L166.37,413.3 L168.51,412.38 L170.65,411.48 L172.8,410.62 L174.94,409.79 L177.09,408.98 L179.23,408.22 L181.37,407.49 L183.52,406.8 L185.66,406.15 L187.8,405.53 L189.95,404.96 L192.09,404.43 L194.24,403.93 L196.38,403.46 L198.52,403.03 L200.67,402.64 L202.81,402.27 L204.96,401.93 L207.1,401.62 L209.24,401.33 L211.39,401.07 L213.53,400.84 L215.67,400.62 L217.82,400.43 L219.96,400.25 L222.11,400.1 L224.25,399.96 L226.39,399.83 L228.54,399.72 L230.68,399.62 L232.82,399.53 L234.97,399.45 L237.11,399.38 L239.26,399.32 L241.4,399.26" fill="none" stroke="#7f5f92" stroke-width="1.05" clip-path="url(#clipC)"/>
<g fill="none" stroke="#1c1c1c" stroke-width="0.85">
<circle cx="55.2" cy="435.1" r="1.8"/>
<circle cx="68.1" cy="433.8" r="1.8"/>
<circle cx="53.3" cy="443.7" r="1.8"/>
<circle cx="55.9" cy="442.7" r="1.8"/>
<circle cx="57.3" cy="442.1" r="1.8"/>
<circle cx="57.3" cy="444.2" r="1.8"/>
<circle cx="51.2" cy="447.3" r="1.8"/>
<circle cx="53.8" cy="446.3" r="1.8"/>
<circle cx="50.7" cy="449.9" r="1.8"/>
<circle cx="65.6" cy="442.4" r="1.8"/>
<circle cx="70.8" cy="440.8" r="1.8"/>
<circle cx="74.9" cy="443.5" r="1.8"/>
<circle cx="67.3" cy="445.8" r="1.8"/>
<circle cx="65.2" cy="447.3" r="1.8"/>
<circle cx="54.3" cy="451.5" r="1.8"/>
<circle cx="61.6" cy="450.4" r="1.8"/>
<circle cx="58" cy="452.2" r="1.8"/>
<circle cx="59.5" cy="453" r="1.8"/>
<circle cx="52.8" cy="454.6" r="1.8"/>
<circle cx="55.9" cy="454.6" r="1.8"/>
<circle cx="57.5" cy="455.6" r="1.8"/>
<circle cx="60.1" cy="455.1" r="1.8"/>
<circle cx="53.8" cy="457.7" r="1.8"/>
<circle cx="56.9" cy="457.2" r="1.8"/>
<circle cx="60.1" cy="458" r="1.8"/>
<circle cx="72.5" cy="457" r="1.8"/>
<circle cx="52.8" cy="461.9" r="1.8"/>
<circle cx="55.9" cy="461.3" r="1.8"/>
<circle cx="58.5" cy="460.8" r="1.8"/>
<circle cx="61.1" cy="461.9" r="1.8"/>
<circle cx="64.7" cy="462.9" r="1.8"/>
<circle cx="59.5" cy="463.9" r="1.8"/>
<circle cx="61.6" cy="463.9" r="1.8"/>
<circle cx="52.3" cy="467.6" r="1.8"/>
<circle cx="54.9" cy="466.5" r="1.8"/>
<circle cx="57.5" cy="466.5" r="1.8"/>
<circle cx="51.2" cy="469.7" r="1.8"/>
<circle cx="53.8" cy="469.7" r="1.8"/>
<circle cx="58.5" cy="474.6" r="1.8"/>
<circle cx="90" cy="433" r="1.8"/>
<circle cx="153.6" cy="380.6" r="1.8"/>
<circle cx="146" cy="384.4" r="1.8"/>
<circle cx="150.9" cy="386" r="1.8"/>
<circle cx="148.2" cy="390.1" r="1.8"/>
<circle cx="147.8" cy="395.5" r="1.8"/>
<circle cx="150.5" cy="395.5" r="1.8"/>
<circle cx="146" cy="401.65" r="1.8"/>
<circle cx="149.4" cy="401.15" r="1.8"/>
<circle cx="143.2" cy="402.15" r="1.8"/>
<circle cx="142.5" cy="404.7" r="1.8"/>
<circle cx="157.45" cy="401.8" r="1.8"/>
<circle cx="163.9" cy="402.7" r="1.8"/>
<circle cx="149.4" cy="406.1" r="1.8"/>
<circle cx="146.45" cy="409.75" r="1.8"/>
<circle cx="149.9" cy="408.55" r="1.8"/>
<circle cx="143.1" cy="411.1" r="1.8"/>
<circle cx="149.3" cy="410.2" r="1.8"/>
<circle cx="130.1" cy="416.8" r="1.8"/>
<circle cx="142" cy="418.1" r="1.8"/>
<circle cx="146.5" cy="417" r="1.8"/>
<circle cx="149.9" cy="414.7" r="1.8"/>
<circle cx="149.3" cy="417" r="1.8"/>
<circle cx="151.6" cy="417.6" r="1.8"/>
<circle cx="148.2" cy="419.5" r="1.8"/>
<circle cx="143.7" cy="422.1" r="1.8"/>
<circle cx="147.6" cy="422.6" r="1.8"/>
<circle cx="150.8" cy="423.2" r="1.8"/>
<circle cx="143.1" cy="426.6" r="1.8"/>
<circle cx="147.1" cy="426" r="1.8"/>
<circle cx="148.5" cy="430" r="1.8"/>
<circle cx="145.4" cy="432.8" r="1.8"/>
<circle cx="142.6" cy="435.1" r="1.8"/>
<circle cx="148.2" cy="436.2" r="1.8"/>
<circle cx="144.85" cy="443.3" r="1.8"/>
<circle cx="186.7" cy="368.2" r="1.8"/>
<circle cx="217.6" cy="376.9" r="1.8"/>
<circle cx="223.8" cy="374.7" r="1.8"/>
<circle cx="229.1" cy="378.5" r="1.8"/>
<circle cx="181.8" cy="385.4" r="1.8"/>
<circle cx="187.1" cy="388.3" r="1.8"/>
<circle cx="196.9" cy="387.8" r="1.8"/>
<circle cx="199.6" cy="385.4" r="1.8"/>
<circle cx="203.9" cy="383.7" r="1.8"/>
<circle cx="209.8" cy="385" r="1.8"/>
<circle cx="219.55" cy="384" r="1.8"/>
<circle cx="224.7" cy="384" r="1.8"/>
<circle cx="226.3" cy="387.6" r="1.8"/>
<circle cx="230" cy="386.1" r="1.8"/>
<circle cx="235.25" cy="388" r="1.8"/>
<circle cx="240.7" cy="389.25" r="1.8"/>
<circle cx="204.75" cy="390.65" r="1.8"/>
<circle cx="214.65" cy="391.65" r="1.8"/>
<circle cx="223" cy="390.9" r="1.8"/>
<circle cx="232.05" cy="391.3" r="1.8"/>
<circle cx="235.5" cy="390.45" r="1.8"/>
<circle cx="195.85" cy="393.95" r="1.8"/>
<circle cx="197.7" cy="396.65" r="1.8"/>
<circle cx="203.9" cy="396.8" r="1.8"/>
<circle cx="219.65" cy="395.45" r="1.8"/>
<circle cx="224.3" cy="393.7" r="1.8"/>
<circle cx="229.75" cy="395.77" r="1.8"/>
<circle cx="236.8" cy="395.98" r="1.8"/>
<circle cx="241.45" cy="395.85" r="1.8"/>
<circle cx="225.6" cy="385.3" r="1.8"/>
<circle cx="235.75" cy="392.05" r="1.8"/>
<circle cx="234.3" cy="394.3" r="1.8"/>
<circle cx="228.6" cy="397.6" r="1.8"/>
<circle cx="223.4" cy="398.6" r="1.8"/>
<circle cx="239.4" cy="400.6" r="1.8"/>
<circle cx="222" cy="401.4" r="1.8"/>
<circle cx="219.6" cy="402.8" r="1.8"/>
<circle cx="225.15" cy="402.5" r="1.8"/>
<circle cx="229.35" cy="403" r="1.8"/>
<circle cx="227.8" cy="400.3" r="1.8"/>
<circle cx="227.2" cy="403.8" r="1.8"/>
<circle cx="220.35" cy="406.3" r="1.8"/>
<circle cx="223" cy="404.5" r="1.8"/>
<circle cx="227.55" cy="406" r="1.8"/>
<circle cx="208.3" cy="406" r="1.8"/>
<circle cx="220.05" cy="410" r="1.8"/>
<circle cx="227.8" cy="411.5" r="1.8"/>
<circle cx="171.5" cy="405.9" r="1.8"/>
<circle cx="178.9" cy="404.6" r="1.8"/>
<circle cx="180.5" cy="410.3" r="1.8"/>
<circle cx="184.6" cy="400.8" r="1.8"/>
<circle cx="196.9" cy="398.1" r="1.8"/>
<circle cx="199.6" cy="403.3" r="1.8"/>
<circle cx="195.2" cy="408.7" r="1.8"/>
<circle cx="196.9" cy="407.1" r="1.8"/>
<circle cx="196" cy="411.6" r="1.8"/>
<circle cx="187.5" cy="420.1" r="1.8"/>
<circle cx="196.4" cy="419.6" r="1.8"/>
<circle cx="188.7" cy="431.6" r="1.8"/>
<circle cx="189" cy="437" r="1.8"/>
<circle cx="224.6" cy="405.4" r="1.8"/>
</g>
<path d="M43.5,490.6 L43.5,316.3 L248.6,316.3" fill="none" stroke="#2b2b2b" stroke-width="1.15"/>
<path d="M43.5,490.6 L248.6,490.6 L248.6,316.3" fill="none" stroke="#2b2b2b" stroke-width="1.5" stroke-linejoin="round"/>
<line x1="43.6" y1="490.6" x2="43.6" y2="493.5" stroke="#2b2b2b" stroke-width="1.1"/>
<text transform="translate(43.6,504.4) scale(0.88,1)" font-size="8.4" text-anchor="middle" class="b">6</text>
<line x1="76.57" y1="490.6" x2="76.57" y2="493.5" stroke="#2b2b2b" stroke-width="1.1"/>
<text transform="translate(76.57,504.4) scale(0.88,1)" font-size="8.4" text-anchor="middle" class="b">8</text>
<line x1="109.53" y1="490.6" x2="109.53" y2="493.5" stroke="#2b2b2b" stroke-width="1.1"/>
<text transform="translate(109.53,504.4) scale(0.88,1)" font-size="8.4" text-anchor="middle" class="b">10</text>
<line x1="142.5" y1="490.6" x2="142.5" y2="493.5" stroke="#2b2b2b" stroke-width="1.1"/>
<text transform="translate(142.5,504.4) scale(0.88,1)" font-size="8.4" text-anchor="middle" class="b">12</text>
<line x1="175.47" y1="490.6" x2="175.47" y2="493.5" stroke="#2b2b2b" stroke-width="1.1"/>
<text transform="translate(175.47,504.4) scale(0.88,1)" font-size="8.4" text-anchor="middle" class="b">14</text>
<line x1="208.43" y1="490.6" x2="208.43" y2="493.5" stroke="#2b2b2b" stroke-width="1.1"/>
<text transform="translate(208.43,504.4) scale(0.88,1)" font-size="8.4" text-anchor="middle" class="b">16</text>
<line x1="241.4" y1="490.6" x2="241.4" y2="493.5" stroke="#2b2b2b" stroke-width="1.1"/>
<text transform="translate(241.4,504.4) scale(0.88,1)" font-size="8.4" text-anchor="middle" class="b">18</text>
<line x1="40.1" y1="484.3" x2="43.5" y2="484.3" stroke="#2b2b2b" stroke-width="1.1"/>
<text transform="translate(36.9,487.1) scale(0.82,1)" font-size="8.4" text-anchor="end" class="b">0.4</text>
<line x1="40.1" y1="448.3" x2="43.5" y2="448.3" stroke="#2b2b2b" stroke-width="1.1"/>
<text transform="translate(36.9,451.1) scale(0.82,1)" font-size="8.4" text-anchor="end" class="b">0.6</text>
<line x1="40.1" y1="412.3" x2="43.5" y2="412.3" stroke="#2b2b2b" stroke-width="1.1"/>
<text transform="translate(36.9,415.1) scale(0.82,1)" font-size="8.4" text-anchor="end" class="b">0.8</text>
<line x1="40.1" y1="376.3" x2="43.5" y2="376.3" stroke="#2b2b2b" stroke-width="1.1"/>
<text transform="translate(36.9,379.1) scale(0.82,1)" font-size="8.4" text-anchor="end" class="b">1.0</text>
<line x1="40.1" y1="340.3" x2="43.5" y2="340.3" stroke="#2b2b2b" stroke-width="1.1"/>
<text transform="translate(36.9,343.1) scale(0.82,1)" font-size="8.4" text-anchor="end" class="b">1.2</text>
<text x="62" y="303.8" font-size="9.5" class="b" textLength="150.6" lengthAdjust="spacingAndGlyphs">Total Body Less Head BMD: Female</text>
<text transform="translate(10.2,283.8) scale(0.88,1)" font-size="12.3" class="b">C</text>
<text transform="translate(19.7,403.5) rotate(-90)" x="0" y="0" font-size="9.6" class="b" text-anchor="middle" textLength="156.8" lengthAdjust="spacingAndGlyphs">Total body less head BMD (gm/cm2)</text>
<text x="122.5" y="518.6" font-size="10" class="b" textLength="47.2" lengthAdjust="spacingAndGlyphs">Age (years)</text>
<line x1="49.8" y1="324.4" x2="61.9" y2="324.4" stroke="#86b9e3" stroke-width="1.05"/>
<text x="65.6" y="327.2" font-size="8.1" class="b" textLength="13.2" lengthAdjust="spacingAndGlyphs">2nd</text>
<line x1="49.8" y1="332.5" x2="61.9" y2="332.5" stroke="#4f6693" stroke-width="1.05"/>
<text x="65.6" y="335.3" font-size="8.1" class="b" textLength="15.3" lengthAdjust="spacingAndGlyphs">10th</text>
<line x1="49.8" y1="340.6" x2="61.9" y2="340.6" stroke="#7cb561" stroke-width="1.05"/>
<text x="65.6" y="343.4" font-size="8.1" class="b" textLength="15.3" lengthAdjust="spacingAndGlyphs">50th</text>
<line x1="49.8" y1="348.6" x2="61.9" y2="348.6" stroke="#b8404f" stroke-width="1.05"/>
<text x="65.6" y="351.4" font-size="8.1" class="b" textLength="15.3" lengthAdjust="spacingAndGlyphs">90th</text>
<line x1="49.8" y1="356.7" x2="61.9" y2="356.7" stroke="#7f5f92" stroke-width="1.05"/>
<text x="65.6" y="359.5" font-size="8.1" class="b" textLength="15.3" lengthAdjust="spacingAndGlyphs">98th</text>
<clipPath id="clipD"><rect x="306.6" y="316.2" width="205.9" height="174.4"/></clipPath>
<path d="M313.6,426.75 L315.77,425.69 L317.95,424.62 L320.12,423.56 L322.29,422.5 L324.47,421.44 L326.64,420.38 L328.81,419.32 L330.98,418.26 L333.16,417.2 L335.33,416.13 L337.5,415.06 L339.68,413.98 L341.85,412.91 L344.02,411.82 L346.2,410.74 L348.37,409.64 L350.54,408.54 L352.71,407.43 L354.89,406.32 L357.06,405.19 L359.23,404.06 L361.41,402.92 L363.58,401.77 L365.75,400.61 L367.93,399.44 L370.1,398.25 L372.27,397.06 L374.44,395.85 L376.62,394.63 L378.79,393.39 L380.96,392.14 L383.14,390.88 L385.31,389.6 L387.48,388.3 L389.66,386.99 L391.83,385.66 L394,384.32 L396.18,382.95 L398.35,381.57 L400.52,380.17 L402.69,378.74 L404.87,377.3 L407.04,375.84 L409.21,374.35 L411.39,372.85 L413.56,371.32 L415.73,369.76 L417.91,368.19 L420.08,366.59 L422.25,364.96 L424.42,363.31 L426.6,361.63 L428.77,359.93 L430.94,358.2 L433.12,356.44 L435.29,354.66 L437.46,352.84 L439.64,351 L441.81,349.15 L443.98,347.29 L446.16,345.43 L448.33,343.58 L450.5,341.75 L452.67,339.95 L454.85,338.19 L457.02,336.48 L459.19,334.82 L461.37,333.21 L463.54,331.65 L465.71,330.14 L467.89,328.69 L470.06,327.3 L472.23,325.96 L474.4,324.68 L476.58,323.46 L478.75,322.3 L480.92,321.2 L483.1,320.16 L485.27,319.17 L487.44,318.23 L489.62,317.33 L491.79,316.49 L493.96,315.68 L496.13,314.91 L498.31,314.18 L500.48,313.49 L502.65,312.82 L504.83,312.19 L507,311.58" fill="none" stroke="#86b9e3" stroke-width="1.05" clip-path="url(#clipD)"/>
<path d="M314.3,432.98 L316.46,431.99 L318.63,430.99 L320.79,430 L322.96,429.01 L325.12,428.02 L327.28,427.03 L329.45,426.03 L331.61,425.04 L333.78,424.04 L335.94,423.04 L338.1,422.03 L340.27,421.02 L342.43,420.01 L344.6,418.99 L346.76,417.97 L348.92,416.94 L351.09,415.9 L353.25,414.86 L355.42,413.81 L357.58,412.75 L359.74,411.68 L361.91,410.61 L364.07,409.52 L366.24,408.42 L368.4,407.31 L370.57,406.2 L372.73,405.06 L374.89,403.92 L377.06,402.76 L379.22,401.6 L381.39,400.41 L383.55,399.21 L385.71,398 L387.88,396.77 L390.04,395.53 L392.21,394.27 L394.37,392.99 L396.53,391.69 L398.7,390.38 L400.86,389.04 L403.03,387.69 L405.19,386.32 L407.35,384.93 L409.52,383.52 L411.68,382.08 L413.85,380.63 L416.01,379.15 L418.17,377.65 L420.34,376.12 L422.5,374.57 L424.67,373 L426.83,371.41 L428.99,369.79 L431.16,368.17 L433.32,366.53 L435.49,364.89 L437.65,363.24 L439.81,361.6 L441.98,359.96 L444.14,358.33 L446.31,356.71 L448.47,355.12 L450.63,353.54 L452.8,351.99 L454.96,350.46 L457.13,348.97 L459.29,347.52 L461.46,346.11 L463.62,344.74 L465.78,343.42 L467.95,342.16 L470.11,340.94 L472.28,339.78 L474.44,338.66 L476.6,337.59 L478.77,336.57 L480.93,335.59 L483.1,334.66 L485.26,333.77 L487.42,332.93 L489.59,332.12 L491.75,331.36 L493.92,330.63 L496.08,329.94 L498.24,329.29 L500.41,328.68 L502.57,328.1 L504.74,327.55 L506.9,327.04" fill="none" stroke="#4f6693" stroke-width="1.05" clip-path="url(#clipD)"/>
<path d="M313.6,445.34 L315.78,444.38 L317.96,443.43 L320.13,442.48 L322.31,441.53 L324.49,440.58 L326.67,439.64 L328.84,438.69 L331.02,437.75 L333.2,436.8 L335.38,435.86 L337.55,434.91 L339.73,433.96 L341.91,433.02 L344.09,432.07 L346.26,431.11 L348.44,430.16 L350.62,429.2 L352.8,428.24 L354.97,427.28 L357.15,426.31 L359.33,425.34 L361.51,424.36 L363.68,423.38 L365.86,422.39 L368.04,421.4 L370.22,420.4 L372.39,419.4 L374.57,418.38 L376.75,417.36 L378.93,416.34 L381.1,415.3 L383.28,414.26 L385.46,413.21 L387.64,412.15 L389.81,411.08 L391.99,410 L394.17,408.91 L396.35,407.81 L398.52,406.7 L400.7,405.58 L402.88,404.45 L405.06,403.3 L407.23,402.14 L409.41,400.97 L411.59,399.79 L413.77,398.6 L415.94,397.39 L418.12,396.16 L420.3,394.93 L422.48,393.67 L424.65,392.41 L426.83,391.12 L429.01,389.82 L431.19,388.51 L433.36,387.18 L435.54,385.85 L437.72,384.5 L439.9,383.15 L442.07,381.8 L444.25,380.45 L446.43,379.1 L448.61,377.76 L450.78,376.43 L452.96,375.11 L455.14,373.8 L457.32,372.5 L459.49,371.23 L461.67,369.98 L463.85,368.75 L466.03,367.55 L468.2,366.38 L470.38,365.24 L472.56,364.13 L474.74,363.07 L476.91,362.04 L479.09,361.05 L481.27,360.11 L483.45,359.2 L485.62,358.34 L487.8,357.51 L489.98,356.71 L492.16,355.95 L494.33,355.23 L496.51,354.53 L498.69,353.87 L500.87,353.24 L503.04,352.64 L505.22,352.07 L507.4,351.52" fill="none" stroke="#7cb561" stroke-width="1.05" clip-path="url(#clipD)"/>
<path d="M314.3,456.9 L316.47,456.02 L318.64,455.14 L320.81,454.27 L322.98,453.4 L325.15,452.54 L327.32,451.68 L329.49,450.82 L331.66,449.97 L333.83,449.12 L336,448.28 L338.17,447.43 L340.34,446.59 L342.51,445.75 L344.68,444.91 L346.84,444.07 L349.01,443.22 L351.18,442.38 L353.35,441.54 L355.52,440.69 L357.69,439.85 L359.86,439 L362.03,438.14 L364.2,437.29 L366.37,436.43 L368.54,435.56 L370.71,434.69 L372.88,433.82 L375.05,432.94 L377.22,432.05 L379.39,431.16 L381.56,430.26 L383.73,429.35 L385.9,428.43 L388.07,427.51 L390.24,426.57 L392.41,425.63 L394.58,424.68 L396.75,423.71 L398.92,422.74 L401.09,421.75 L403.26,420.76 L405.43,419.75 L407.6,418.73 L409.77,417.69 L411.93,416.64 L414.1,415.58 L416.27,414.5 L418.44,413.41 L420.61,412.3 L422.78,411.18 L424.95,410.04 L427.12,408.88 L429.29,407.71 L431.46,406.52 L433.63,405.31 L435.8,404.08 L437.97,402.85 L440.14,401.61 L442.31,400.36 L444.48,399.12 L446.65,397.89 L448.82,396.67 L450.99,395.46 L453.16,394.28 L455.33,393.12 L457.5,391.99 L459.67,390.88 L461.84,389.81 L464.01,388.75 L466.18,387.72 L468.35,386.72 L470.52,385.73 L472.69,384.77 L474.86,383.83 L477.02,382.92 L479.19,382.03 L481.36,381.16 L483.53,380.32 L485.7,379.51 L487.87,378.73 L490.04,377.97 L492.21,377.25 L494.38,376.55 L496.55,375.88 L498.72,375.24 L500.89,374.64 L503.06,374.07 L505.23,373.52 L507.4,373.02" fill="none" stroke="#b8404f" stroke-width="1.05" clip-path="url(#clipD)"/>
<path d="M314.3,462.52 L316.47,461.63 L318.64,460.75 L320.81,459.88 L322.98,459.03 L325.15,458.19 L327.32,457.35 L329.49,456.53 L331.66,455.72 L333.83,454.91 L336,454.11 L338.17,453.32 L340.34,452.54 L342.51,451.76 L344.68,450.98 L346.84,450.21 L349.01,449.44 L351.18,448.67 L353.35,447.9 L355.52,447.14 L357.69,446.37 L359.86,445.6 L362.03,444.83 L364.2,444.06 L366.37,443.28 L368.54,442.5 L370.71,441.71 L372.88,440.92 L375.05,440.12 L377.22,439.32 L379.39,438.51 L381.56,437.68 L383.73,436.85 L385.9,436.01 L388.07,435.15 L390.24,434.29 L392.41,433.41 L394.58,432.52 L396.75,431.61 L398.92,430.69 L401.09,429.75 L403.26,428.8 L405.43,427.83 L407.6,426.85 L409.77,425.85 L411.93,424.84 L414.1,423.82 L416.27,422.79 L418.44,421.75 L420.61,420.7 L422.78,419.64 L424.95,418.57 L427.12,417.5 L429.29,416.42 L431.46,415.34 L433.63,414.25 L435.8,413.16 L437.97,412.07 L440.14,410.98 L442.31,409.88 L444.48,408.79 L446.65,407.69 L448.82,406.61 L450.99,405.53 L453.16,404.45 L455.33,403.39 L457.5,402.33 L459.67,401.29 L461.84,400.27 L464.01,399.26 L466.18,398.27 L468.35,397.3 L470.52,396.35 L472.69,395.42 L474.86,394.52 L477.02,393.64 L479.19,392.8 L481.36,391.98 L483.53,391.2 L485.7,390.45 L487.87,389.73 L490.04,389.06 L492.21,388.42 L494.38,387.82 L496.55,387.26 L498.72,386.75 L500.89,386.29 L503.06,385.87 L505.23,385.5 L507.4,385.18" fill="none" stroke="#7f5f92" stroke-width="1.05" clip-path="url(#clipD)"/>
<g fill="none" stroke="#1c1c1c" stroke-width="0.85">
<circle cx="334.2" cy="426.2" r="1.8"/>
<circle cx="322.9" cy="429.9" r="1.8"/>
<circle cx="317.9" cy="434.1" r="1.8"/>
<circle cx="324" cy="432.8" r="1.8"/>
<circle cx="344.75" cy="435.5" r="1.8"/>
<circle cx="330.95" cy="442.55" r="1.8"/>
<circle cx="334.5" cy="444.2" r="1.8"/>
<circle cx="346.05" cy="455.45" r="1.8"/>
<circle cx="343.95" cy="447.55" r="1.8"/>
<circle cx="326.2" cy="443" r="1.8"/>
<circle cx="321.9" cy="444.6" r="1.8"/>
<circle cx="317.6" cy="446" r="1.8"/>
<circle cx="326.7" cy="445.7" r="1.8"/>
<circle cx="315" cy="448.6" r="1.8"/>
<circle cx="321.2" cy="447.9" r="1.8"/>
<circle cx="325.5" cy="449.9" r="1.8"/>
<circle cx="315.3" cy="453.9" r="1.8"/>
<circle cx="318.75" cy="452.15" r="1.8"/>
<circle cx="322.2" cy="453.9" r="1.8"/>
<circle cx="324.9" cy="455.2" r="1.8"/>
<circle cx="315" cy="457.2" r="1.8"/>
<circle cx="317.6" cy="456.2" r="1.8"/>
<circle cx="320.2" cy="456.9" r="1.8"/>
<circle cx="322.9" cy="457.2" r="1.8"/>
<circle cx="315" cy="458.8" r="1.8"/>
<circle cx="317.9" cy="458.8" r="1.8"/>
<circle cx="320.9" cy="458.8" r="1.8"/>
<circle cx="323.6" cy="459.8" r="1.8"/>
<circle cx="322.2" cy="461.2" r="1.8"/>
<circle cx="314.6" cy="465.5" r="1.8"/>
<circle cx="318.6" cy="464.8" r="1.8"/>
<circle cx="321.9" cy="464.5" r="1.8"/>
<circle cx="314.3" cy="470.8" r="1.8"/>
<circle cx="320.2" cy="445.5" r="1.8"/>
<circle cx="316.9" cy="461" r="1.8"/>
<circle cx="358.7" cy="434.8" r="1.8"/>
<circle cx="372.3" cy="437.6" r="1.8"/>
<circle cx="351.9" cy="456.3" r="1.8"/>
<circle cx="408.8" cy="381.1" r="1.8"/>
<circle cx="413" cy="389" r="1.8"/>
<circle cx="415.3" cy="392.5" r="1.8"/>
<circle cx="415.1" cy="395.8" r="1.8"/>
<circle cx="408.7" cy="397.7" r="1.8"/>
<circle cx="411.6" cy="401" r="1.8"/>
<circle cx="414.9" cy="401" r="1.8"/>
<circle cx="404" cy="407.05" r="1.8"/>
<circle cx="407.55" cy="408.6" r="1.8"/>
<circle cx="410.1" cy="408.6" r="1.8"/>
<circle cx="411.6" cy="409.5" r="1.8"/>
<circle cx="408.7" cy="411.4" r="1.8"/>
<circle cx="412" cy="411.4" r="1.8"/>
<circle cx="414.4" cy="413.3" r="1.8"/>
<circle cx="407.3" cy="414.7" r="1.8"/>
<circle cx="409.7" cy="415.7" r="1.8"/>
<circle cx="406.8" cy="417.1" r="1.8"/>
<circle cx="409.2" cy="418.5" r="1.8"/>
<circle cx="412" cy="417.1" r="1.8"/>
<circle cx="419.1" cy="415.7" r="1.8"/>
<circle cx="420.5" cy="418" r="1.8"/>
<circle cx="423.4" cy="418" r="1.8"/>
<circle cx="418.2" cy="419.5" r="1.8"/>
<circle cx="421" cy="419.9" r="1.8"/>
<circle cx="407.3" cy="420.9" r="1.8"/>
<circle cx="410.6" cy="421.4" r="1.8"/>
<circle cx="413.9" cy="422.8" r="1.8"/>
<circle cx="409.7" cy="423.7" r="1.8"/>
<circle cx="420.75" cy="424.65" r="1.8"/>
<circle cx="419.3" cy="420.6" r="1.8"/>
<circle cx="410.9" cy="424.5" r="1.8"/>
<circle cx="413.7" cy="425.7" r="1.8"/>
<circle cx="409.7" cy="427.4" r="1.8"/>
<circle cx="413.1" cy="427.9" r="1.8"/>
<circle cx="408.9" cy="431.35" r="1.8"/>
<circle cx="410.9" cy="435.3" r="1.8"/>
<circle cx="407.5" cy="438.3" r="1.8"/>
<circle cx="411.4" cy="439.3" r="1.8"/>
<circle cx="418" cy="438.3" r="1.8"/>
<circle cx="408.4" cy="446" r="1.8"/>
<circle cx="413.7" cy="447.2" r="1.8"/>
<circle cx="412" cy="460.5" r="1.8"/>
<circle cx="429.5" cy="433" r="1.8"/>
<circle cx="492.3" cy="334.4" r="1.8"/>
<circle cx="491.1" cy="355.3" r="1.8"/>
<circle cx="495.6" cy="355.3" r="1.8"/>
<circle cx="505" cy="356.2" r="1.8"/>
<circle cx="489.4" cy="360.8" r="1.8"/>
<circle cx="494.9" cy="359.2" r="1.8"/>
<circle cx="482.7" cy="364.5" r="1.8"/>
<circle cx="492.8" cy="364.9" r="1.8"/>
<circle cx="493.3" cy="367.5" r="1.8"/>
<circle cx="485.2" cy="369.9" r="1.8"/>
<circle cx="491.9" cy="371.2" r="1.8"/>
<circle cx="498.3" cy="371.2" r="1.8"/>
<circle cx="480.2" cy="375.9" r="1.8"/>
<circle cx="491.9" cy="374.9" r="1.8"/>
<circle cx="496.1" cy="373.7" r="1.8"/>
<circle cx="498.6" cy="374.6" r="1.8"/>
<circle cx="501.1" cy="375.4" r="1.8"/>
<circle cx="502.8" cy="377.9" r="1.8"/>
<circle cx="456.5" cy="376.2" r="1.8"/>
<circle cx="456" cy="379.9" r="1.8"/>
<circle cx="459.8" cy="382.6" r="1.8"/>
<circle cx="463.3" cy="385.6" r="1.8"/>
<circle cx="471.85" cy="383.35" r="1.8"/>
<circle cx="485.2" cy="383.8" r="1.8"/>
<circle cx="489.85" cy="385.9" r="1.8"/>
<circle cx="493.9" cy="383.3" r="1.8"/>
<circle cx="493.6" cy="391.2" r="1.8"/>
<circle cx="489.15" cy="393.75" r="1.8"/>
<circle cx="496.5" cy="394.5" r="1.8"/>
<circle cx="437.5" cy="394.3" r="1.8"/>
<circle cx="456" cy="393.3" r="1.8"/>
<circle cx="460.1" cy="394.6" r="1.8"/>
<circle cx="472.7" cy="393.3" r="1.8"/>
<circle cx="475.2" cy="393.8" r="1.8"/>
<circle cx="439.7" cy="400.1" r="1.8"/>
<circle cx="461" cy="395.9" r="1.8"/>
<circle cx="459.3" cy="404.2" r="1.8"/>
<circle cx="468.8" cy="396.4" r="1.8"/>
<circle cx="474.4" cy="397" r="1.8"/>
<circle cx="477.2" cy="397" r="1.8"/>
<circle cx="480.2" cy="396.7" r="1.8"/>
<circle cx="475.75" cy="403.15" r="1.8"/>
<circle cx="472.7" cy="407.1" r="1.8"/>
<circle cx="474.9" cy="411.4" r="1.8"/>
<circle cx="497.3" cy="395.9" r="1.8"/>
<circle cx="492.3" cy="397.5" r="1.8"/>
<circle cx="498.6" cy="398" r="1.8"/>
<circle cx="492.8" cy="400.9" r="1.8"/>
<circle cx="493.6" cy="405.4" r="1.8"/>
<circle cx="502.3" cy="405.4" r="1.8"/>
<circle cx="505" cy="409.8" r="1.8"/>
<circle cx="496.1" cy="418.1" r="1.8"/>
<circle cx="457.3" cy="421.8" r="1.8"/>
<circle cx="454.8" cy="426" r="1.8"/>
<circle cx="448.4" cy="427.2" r="1.8"/>
<circle cx="468.8" cy="427.2" r="1.8"/>
<circle cx="439.7" cy="457.3" r="1.8"/>
</g>
<path d="M306.6,490.6 L306.6,316.2 L512.5,316.2" fill="none" stroke="#2b2b2b" stroke-width="1.15"/>
<path d="M306.6,490.6 L512.5,490.6 L512.5,316.2" fill="none" stroke="#2b2b2b" stroke-width="1.5" stroke-linejoin="round"/>
<line x1="307.2" y1="490.6" x2="307.2" y2="493.5" stroke="#2b2b2b" stroke-width="1.1"/>
<text transform="translate(307.2,504.4) scale(0.88,1)" font-size="8.4" text-anchor="middle" class="b">6</text>
<line x1="340.52" y1="490.6" x2="340.52" y2="493.5" stroke="#2b2b2b" stroke-width="1.1"/>
<text transform="translate(340.52,504.4) scale(0.88,1)" font-size="8.4" text-anchor="middle" class="b">8</text>
<line x1="373.83" y1="490.6" x2="373.83" y2="493.5" stroke="#2b2b2b" stroke-width="1.1"/>
<text transform="translate(373.83,504.4) scale(0.88,1)" font-size="8.4" text-anchor="middle" class="b">10</text>
<line x1="407.15" y1="490.6" x2="407.15" y2="493.5" stroke="#2b2b2b" stroke-width="1.1"/>
<text transform="translate(407.15,504.4) scale(0.88,1)" font-size="8.4" text-anchor="middle" class="b">12</text>
<line x1="440.47" y1="490.6" x2="440.47" y2="493.5" stroke="#2b2b2b" stroke-width="1.1"/>
<text transform="translate(440.47,504.4) scale(0.88,1)" font-size="8.4" text-anchor="middle" class="b">14</text>
<line x1="473.78" y1="490.6" x2="473.78" y2="493.5" stroke="#2b2b2b" stroke-width="1.1"/>
<text transform="translate(473.78,504.4) scale(0.88,1)" font-size="8.4" text-anchor="middle" class="b">16</text>
<line x1="507.1" y1="490.6" x2="507.1" y2="493.5" stroke="#2b2b2b" stroke-width="1.1"/>
<text transform="translate(507.1,504.4) scale(0.88,1)" font-size="8.4" text-anchor="middle" class="b">18</text>
<line x1="303.2" y1="484.2" x2="306.6" y2="484.2" stroke="#2b2b2b" stroke-width="1.1"/>
<text transform="translate(300,487) scale(0.82,1)" font-size="8.4" text-anchor="end" class="b">0.4</text>
<line x1="303.2" y1="448.2" x2="306.6" y2="448.2" stroke="#2b2b2b" stroke-width="1.1"/>
<text transform="translate(300,451) scale(0.82,1)" font-size="8.4" text-anchor="end" class="b">0.6</text>
<line x1="303.2" y1="412.2" x2="306.6" y2="412.2" stroke="#2b2b2b" stroke-width="1.1"/>
<text transform="translate(300,415) scale(0.82,1)" font-size="8.4" text-anchor="end" class="b">0.8</text>
<line x1="303.2" y1="376.2" x2="306.6" y2="376.2" stroke="#2b2b2b" stroke-width="1.1"/>
<text transform="translate(300,379) scale(0.82,1)" font-size="8.4" text-anchor="end" class="b">1.0</text>
<line x1="303.2" y1="340.2" x2="306.6" y2="340.2" stroke="#2b2b2b" stroke-width="1.1"/>
<text transform="translate(300,343) scale(0.82,1)" font-size="8.4" text-anchor="end" class="b">1.2</text>
<text x="339.3" y="303.8" font-size="9.5" class="b" textLength="140.5" lengthAdjust="spacingAndGlyphs">Total Body Less Head BMD: Male</text>
<text transform="translate(273.3,283.6) scale(0.88,1)" font-size="12.3" class="b">D</text>
<text transform="translate(283.5,403.95) rotate(-90)" x="0" y="0" font-size="9.6" class="b" text-anchor="middle" textLength="156.5" lengthAdjust="spacingAndGlyphs">Total body less head BMD (gm/cm2)</text>
<text x="386.1" y="518.6" font-size="10" class="b" textLength="46.7" lengthAdjust="spacingAndGlyphs">Age (years)</text>
<line x1="313.3" y1="324.4" x2="325.4" y2="324.4" stroke="#86b9e3" stroke-width="1.05"/>
<text x="328.8" y="327.2" font-size="8.1" class="b" textLength="13.2" lengthAdjust="spacingAndGlyphs">2nd</text>
<line x1="313.3" y1="332.5" x2="325.4" y2="332.5" stroke="#4f6693" stroke-width="1.05"/>
<text x="328.8" y="335.3" font-size="8.1" class="b" textLength="15.3" lengthAdjust="spacingAndGlyphs">10th</text>
<line x1="313.3" y1="340.6" x2="325.4" y2="340.6" stroke="#7cb561" stroke-width="1.05"/>
<text x="328.8" y="343.4" font-size="8.1" class="b" textLength="15.3" lengthAdjust="spacingAndGlyphs">50th</text>
<line x1="313.3" y1="348.6" x2="325.4" y2="348.6" stroke="#b8404f" stroke-width="1.05"/>
<text x="328.8" y="351.4" font-size="8.1" class="b" textLength="15.3" lengthAdjust="spacingAndGlyphs">90th</text>
<line x1="313.3" y1="356.7" x2="325.4" y2="356.7" stroke="#7f5f92" stroke-width="1.05"/>
<text x="328.8" y="359.5" font-size="8.1" class="b" textLength="15.3" lengthAdjust="spacingAndGlyphs">98th</text>
</svg>
</body></html>
